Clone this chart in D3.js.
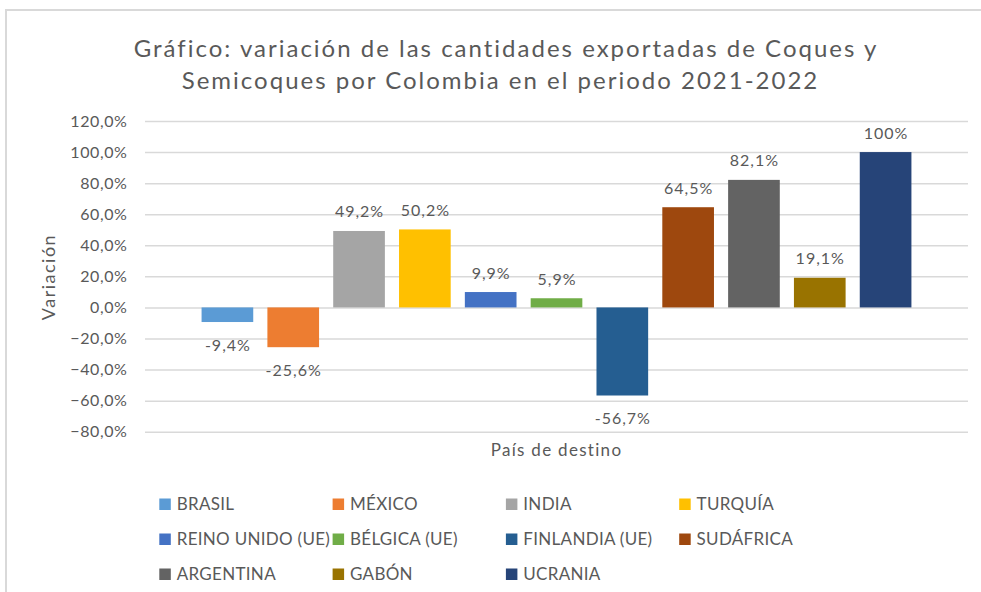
<!DOCTYPE html>
<html>
<head>
<meta charset="utf-8">
<script src="https://cdn.jsdelivr.net/npm/d3@7"></script>
<style>
  body { margin: 0; background: #fff; }
  svg text { font-family: Lato, "Open Sans", sans-serif; }
</style>
</head>
<body>
<div id="chart"></div>
<script>
// data
var paises = ["BRASIL", "MÉXICO", "INDIA", "TURQUÍA", "REINO UNIDO (UE)", "BÉLGICA (UE)",
  "FINLANDIA (UE)", "SUDÁFRICA", "ARGENTINA", "GABÓN", "UCRANIA"];
var variacion = [-9.4, -25.6, 49.2, 50.2, 9.9, 5.9, -56.7, 64.5, 82.1, 19.1, 100];
var etiquetas = ["-9,4%", "-25,6%", "49,2%", "50,2%", "9,9%", "5,9%", "-56,7%", "64,5%", "82,1%", "19,1%", "100%"];
var colores = ["#5b9bd5", "#ed7d31", "#a5a5a5", "#ffc000", "#4472c4", "#70ad47",
  "#255e91", "#9e480e", "#636363", "#997300", "#264478"];
var yTicks = [-80, -60, -40, -20, 0, 20, 40, 60, 80, 100, 120];

var W = 981, H = 592;
var plot = {left: 145, right: 968, top: 121, bottom: 431.7};

var svg = d3.select("#chart").append("svg")
  .attr("width", W)
  .attr("height", H);

// chart frame (only left and top show)
svg.append("path")
  .attr("d", "M6," + H + "V10H" + W)
  .attr("fill", "none")
  .attr("stroke", "#d9d9d9")
  .attr("stroke-width", 2);

// title
var title = svg.append("text")
  .attr("text-anchor", "middle")
  .attr("fill", "#595959")
  .style("font-size", "24px")
  .style("letter-spacing", "2px");
title.append("tspan").attr("x", 506).attr("y", 56.5)
  .text("Gráfico: variación de las cantidades exportadas de Coques y");
title.append("tspan").attr("x", 500.5).attr("y", 88.5)
  .text("Semicoques por Colombia en el periodo 2021-2022");

var y = d3.scaleLinear().domain([-80, 120]).range([plot.bottom, plot.top]);
var data = paises.map(function(p, i){
  return {pais: p, val: variacion[i], lab: etiquetas[i], col: colores[i]};
});

// bars sit inside the plot with some room at both ends
var x = d3.scaleBand()
  .domain(paises)
  .range([plot.left + 49.5, plot.right - 49.5])
  .paddingInner(0.215)
  .paddingOuter(0.1075);

// gridlines + tick labels
var yAxis = svg.append("g")
  .attr("transform", "translate(" + plot.left + ",0)")
  .call(d3.axisLeft(y).tickValues(yTicks)
    .tickSize(-(plot.right - plot.left))
    .tickPadding(17.5)
    .tickFormat(function(d){ return d3.format(".1f")(d).replace(".", ",") + "%"; }));
yAxis.select(".domain").remove();
yAxis.selectAll(".tick line").attr("stroke", "#d9d9d9").attr("stroke-width", 1.5);
yAxis.selectAll(".tick text")
  .attr("fill", "#595959")
  .style("font-size", "16px")
  .style("letter-spacing", "0.6px")
  .style("font-family", "Lato, sans-serif");

// bars
svg.append("g").selectAll("rect")
  .data(data)
  .enter().append("rect")
  .attr("x", function(d){ return x(d.pais); })
  .attr("width", x.bandwidth())
  .attr("y", function(d){ return y(Math.max(0, d.val)); })
  .attr("height", function(d){ return Math.abs(y(d.val) - y(0)); })
  .attr("fill", function(d){ return d.col; });

// data labels
svg.append("g").selectAll("text")
  .data(data)
  .enter().append("text")
  .attr("x", function(d){ return x(d.pais) + x.bandwidth() / 2 + 0.5; })
  .attr("y", function(d){ return d.val >= 0 ? y(d.val) - 13.5 : y(d.val) + 28.5; })
  .attr("text-anchor", "middle")
  .attr("fill", "#595959")
  .style("font-size", "16px")
  .style("letter-spacing", "1px")
  .text(function(d){ return d.lab; });

// axis titles
svg.append("text")
  .attr("transform", "translate(55,277) rotate(-90)")
  .attr("text-anchor", "middle")
  .attr("fill", "#595959")
  .style("font-size", "18px")
  .style("letter-spacing", "1.5px")
  .text("Variación");

svg.append("text")
  .attr("x", (plot.left + plot.right) / 2)
  .attr("y", 456)
  .attr("text-anchor", "middle")
  .attr("fill", "#595959")
  .style("font-size", "17px")
  .style("letter-spacing", "1.3px")
  .text("País de destino");

// legend, 4 columns
var leg = svg.append("g").selectAll("g")
  .data(data)
  .enter().append("g")
  .attr("transform", function(d, i){
    return "translate(" + (159.3 + (i % 4) * 173.3) + "," + (510 + Math.floor(i / 4) * 35) + ")";
  });
leg.append("rect")
  .attr("y", -11.5)
  .attr("width", 11.5).attr("height", 11.5)
  .attr("fill", function(d){ return d.col; });
leg.append("text")
  .attr("x", 17.4)
  .attr("fill", "#595959")
  .style("font-size", "17px")
  .style("letter-spacing", "0.3px")
  .text(function(d){ return d.pais; });
</script>
</body>
</html>
